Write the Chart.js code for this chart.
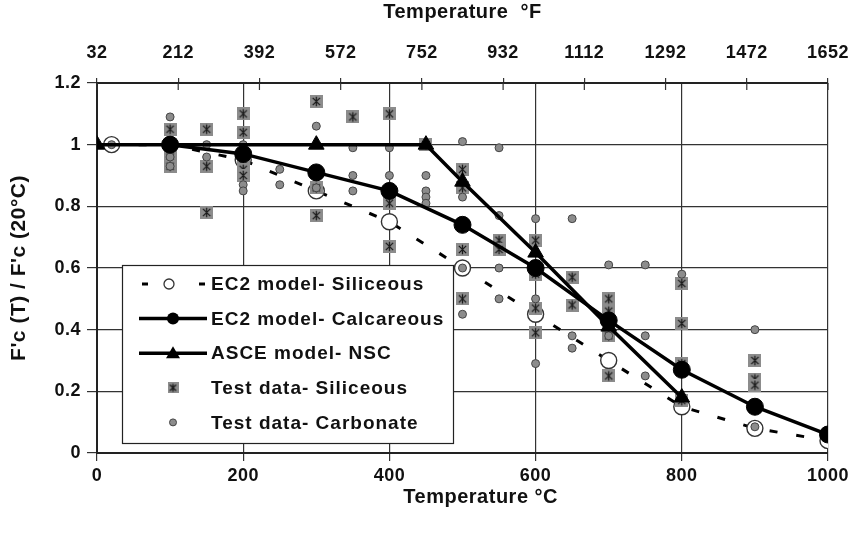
<!DOCTYPE html>
<html><head><meta charset="utf-8">
<script src="https://cdn.jsdelivr.net/npm/chart.js@4.4.1/dist/chart.umd.min.js"></script>
<style>html,body{margin:0;padding:0;background:#fff;} #wrap{width:854px;height:545px;}</style>
</head><body><div id="wrap"><canvas id="c" width="854" height="545"></canvas></div>
<script>
// ---- tick labels ----
const tempTicksC = [0, 200, 400, 600, 800, 1000];
const tempTicksF = [32, 212, 392, 572, 752, 932, 1112, 1292, 1472, 1652];
const ratioTicks = [0, 0.2, 0.4, 0.6, 0.8, 1, 1.2];

// ---- model curves ----
const ec2SilTemps = [20, 100, 200, 300, 400, 500, 600, 700, 800, 900, 1000];
const ec2Siliceous = [1, 1, 0.95, 0.85, 0.75, 0.60, 0.45, 0.30, 0.15, 0.08, 0.04];
const ec2CalTemps = [100, 200, 300, 400, 500, 600, 700, 800, 900, 1000];
const ec2Calcareous = [1, 0.97, 0.91, 0.85, 0.74, 0.60, 0.43, 0.27, 0.15, 0.06];
const asceTemps = [0, 300, 450, 500, 600, 700, 800];
const asceNSC = [1, 1, 1, 0.88, 0.65, 0.41, 0.18];

// ---- test data ----
const silTemps = [100,100,100,100, 150,150,150, 200,200,200,200,200, 300,300,300, 350, 400,400,400, 450,
  500,500,500,500, 550,550, 600,600,600,600, 650,650, 700,700,700,700, 800,800,800,800, 900,900,900];
const silValues = [1.05,1.0,0.96,0.93, 1.05,0.93,0.78, 1.10,1.04,0.95,0.92,0.90, 1.14,0.86,0.77, 1.09, 1.10,0.81,0.67, 1.0,
  0.92,0.86,0.66,0.50, 0.69,0.66, 0.69,0.58,0.47,0.39, 0.57,0.48, 0.50,0.46,0.38,0.25, 0.55,0.42,0.29,0.17, 0.30,0.24,0.22];
const carbTemps = [20, 100,100,100, 150,150, 200,200,200, 250,250, 300,300, 350,350,350, 400,400,
  450,450,450,450, 500,500,500,500, 550,550,550,550, 600,600,600, 650,650,650, 700,700, 750,750,750, 800, 900,900];
const carbValues = [1.0, 1.09,0.96,0.93, 1.0,0.96, 1.0,0.87,0.85, 0.92,0.87, 1.06,0.86, 0.99,0.90,0.85, 0.99,0.90,
  0.90,0.85,0.83,0.81, 1.01,0.83,0.60,0.45, 0.99,0.77,0.60,0.50, 0.76,0.50,0.29, 0.76,0.38,0.34, 0.61,0.38, 0.61,0.38,0.25, 0.58, 0.40,0.085];

const seriesLabels = ['EC2 model- Siliceous', 'EC2 model- Calcareous', 'ASCE model- NSC', 'Test data- Siliceous', 'Test data- Carbonate'];

const pts = (xs, ys) => xs.map((x, i) => ({x: x, y: ys[i]}));
const FONT = '"Liberation Sans", Arial, sans-serif';

// custom marker: gray square with asterisk
function makeStarSquare(size) {
  const c = document.createElement('canvas');
  c.width = size; c.height = size;
  const g = c.getContext('2d');
  g.fillStyle = '#8c8c8c';
  g.fillRect(0, 0, size, size);
  g.strokeStyle = '#1a1a1a';
  g.lineWidth = 1.3;
  const m = size * 0.22, s = size;
  g.beginPath();
  g.moveTo(m, m); g.lineTo(s - m, s - m);
  g.moveTo(s - m, m); g.lineTo(m, s - m);
  g.moveTo(s / 2, m - 1); g.lineTo(s / 2, s - m + 1);
  g.stroke();
  return c;
}
const starSq = makeStarSquare(13);
const starSqSmall = makeStarSquare(11);

const spacing = {
  id: 'spacing',
  beforeDraw(chart) { chart.ctx.letterSpacing = '0.5px'; }
};

const innerTicks = {
  id: 'innerTicks',
  afterDraw(chart) {
    const sc = chart.scales.x2, ctx = chart.ctx, top = chart.chartArea.top;
    ctx.save();
    ctx.strokeStyle = '#333'; ctx.lineWidth = 1.2;
    sc.ticks.forEach(t => {
      const px = sc.getPixelForValue(t.value);
      ctx.beginPath(); ctx.moveTo(px, top); ctx.lineTo(px, top + 7); ctx.stroke();
    });
    ctx.restore();
  }
};

const boxLegend = {
  id: 'boxLegend',
  afterDatasetsDraw(chart) {
    const ctx = chart.ctx;
    const bx = 122, by = 265, bw = 331, bh = 178;
    ctx.save();
    ctx.fillStyle = '#fff';
    ctx.fillRect(bx, by, bw, bh);
    ctx.strokeStyle = '#222'; ctx.lineWidth = 1.2;
    ctx.strokeRect(bx + 0.5, by + 0.5, bw, bh);
    const x0 = 139, x1 = 207, mx = 173, tx = 211;
    chart.data.datasets.forEach((ds, i) => {
      const y = by + 19 + i * 34.6;
      ctx.strokeStyle = '#000'; ctx.fillStyle = '#000';
      if (i === 0) {
        ctx.lineWidth = 3;
        ctx.beginPath(); ctx.moveTo(142, y); ctx.lineTo(148, y); ctx.moveTo(199, y); ctx.lineTo(205, y); ctx.stroke();
        ctx.beginPath(); ctx.arc(169, y, 5, 0, Math.PI * 2); ctx.fillStyle = '#fff'; ctx.fill();
        ctx.lineWidth = 1.3; ctx.strokeStyle = '#333'; ctx.stroke();
      } else if (i === 1) {
        ctx.lineWidth = 3.5;
        ctx.beginPath(); ctx.moveTo(x0, y); ctx.lineTo(x1, y); ctx.stroke();
        ctx.beginPath(); ctx.arc(mx, y, 6, 0, Math.PI * 2); ctx.fill();
      } else if (i === 2) {
        ctx.lineWidth = 3.5;
        ctx.beginPath(); ctx.moveTo(x0, y); ctx.lineTo(x1, y); ctx.stroke();
        ctx.beginPath(); ctx.moveTo(mx, y - 7); ctx.lineTo(mx + 7, y + 5); ctx.lineTo(mx - 7, y + 5); ctx.closePath(); ctx.fill();
      } else if (i === 3) {
        ctx.drawImage(starSqSmall, mx - 5.5, y - 5.5);
      } else {
        ctx.beginPath(); ctx.arc(mx, y, 3.5, 0, Math.PI * 2);
        ctx.fillStyle = '#8c8c8c'; ctx.fill(); ctx.lineWidth = 1; ctx.strokeStyle = '#444'; ctx.stroke();
      }
      ctx.fillStyle = '#111';
      ctx.font = 'bold 19px ' + FONT;
      ctx.letterSpacing = '1px';
      ctx.textAlign = 'left'; ctx.textBaseline = 'middle';
      ctx.fillText(ds.label, tx, y + 1);
    });
    ctx.restore();
  }
};

const tickFont = {family: FONT, size: 18, weight: 'bold'};
const titleFont = {family: FONT, size: 20, weight: 'bold'};
const noSidePad = s => { s.paddingLeft = 0; s.paddingRight = 0; };

new Chart(document.getElementById('c'), {
  type: 'scatter',
  data: {
    datasets: [
      { label: seriesLabels[0], data: pts(ec2SilTemps, ec2Siliceous), showLine: true,
        borderColor: '#000', borderWidth: 3, borderDash: [8, 19],
        pointStyle: 'circle', pointRadius: 8, pointBackgroundColor: '#fff', pointBorderColor: '#333', pointBorderWidth: 1.4,
        order: 5 },
      { label: seriesLabels[1], data: pts(ec2CalTemps, ec2Calcareous), showLine: true,
        borderColor: '#000', borderWidth: 3.5,
        pointStyle: 'circle', pointRadius: 8.5, pointBackgroundColor: '#000', pointBorderColor: '#000', pointBorderWidth: 1,
        order: 1 },
      { label: seriesLabels[2], data: pts(asceTemps, asceNSC), showLine: true,
        borderColor: '#000', borderWidth: 3.5,
        pointStyle: 'triangle', pointRadius: 9, pointBackgroundColor: '#000', pointBorderColor: '#000', pointBorderWidth: 1,
        order: 0 },
      { label: seriesLabels[3], data: pts(silTemps, silValues), showLine: false,
        pointStyle: starSq, pointRadius: 6.5,
        order: 4 },
      { label: seriesLabels[4], data: pts(carbTemps, carbValues), showLine: false,
        pointStyle: 'circle', pointRadius: 4, pointBackgroundColor: '#8c8c8c', pointBorderColor: '#444', pointBorderWidth: 1,
        order: 3 }
    ]
  },
  options: {
    responsive: false,
    animation: false,
    events: [],
    layout: { padding: { left: 0, right: 26, top: 0, bottom: 0 } },
    plugins: { legend: { display: false }, tooltip: { enabled: false } },
    scales: {
      x: {
        type: 'linear', position: 'bottom', min: 0, max: 1000,
        afterBuildTicks: s => { s.ticks = tempTicksC.map(v => ({value: v})); },
        afterFit: s => { s.height = 92; noSidePad(s); },
        ticks: { font: tickFont, color: '#111', padding: 4, maxRotation: 0, callback: v => String(v) },
        grid: { color: '#333', lineWidth: 1.2, tickLength: 8, drawOnChartArea: true },
        border: { color: '#222', width: 2 },
        title: { display: true, text: '      Temperature °C', font: titleFont, color: '#111', padding: { top: 0, bottom: 36 } }
      },
      x2: {
        type: 'linear', position: 'top', min: 32, max: 1652,
        afterBuildTicks: s => { s.ticks = tempTicksF.map(v => ({value: v})); },
        afterFit: s => { s.height = 83; noSidePad(s); },
        ticks: { font: tickFont, color: '#111', padding: 14, maxRotation: 0, callback: v => String(v) },
        grid: { color: '#333', lineWidth: 1.2, tickLength: 5, drawOnChartArea: false },
        border: { color: '#222', width: 2 },
        title: { display: true, text: 'Temperature  °F', font: titleFont, color: '#111', padding: { top: 0, bottom: 0 } }
      },
      y: {
        type: 'linear', position: 'left', min: 0, max: 1.2,
        afterBuildTicks: s => { s.ticks = ratioTicks.map(v => ({value: v})); },
        afterFit: s => { s.width = 97; s.paddingTop = 0; s.paddingBottom = 0; },
        ticks: { font: tickFont, color: '#111', padding: 6, callback: v => String(v) },
        grid: { color: '#333', lineWidth: 1.2, tickLength: 10 },
        border: { color: '#222', width: 2 },
        title: { display: true, text: "F'c (T) / F'c (20°C)", font: {family: FONT, size: 21, weight: 'bold'}, color: '#111', padding: { top: 7, bottom: 0 } }
      }
    }
  },
  plugins: [spacing, boxLegend, innerTicks]
});
</script>
</body></html>
